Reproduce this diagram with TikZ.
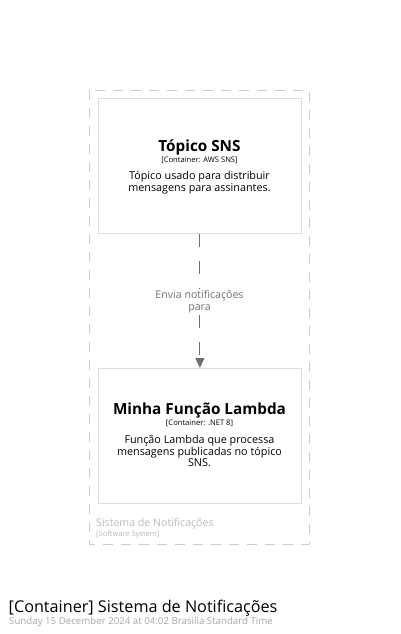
\documentclass[tikz,border=0pt]{standalone}
\usepackage{fontspec}
\setmainfont{Open Sans}
\usetikzlibrary{arrows.meta}
\definecolor{bordergray}{HTML}{DDDDDD}
\definecolor{dashgray}{HTML}{CCCCCC}
\definecolor{labelgray}{HTML}{707070}
\definecolor{lightlabel}{HTML}{BBBBBB}
\definecolor{dategray}{HTML}{A8A8A8}
\definecolor{linegray}{HTML}{707070}
\begin{document}
\begin{tikzpicture}[x=1pt,y=-1pt,
  container/.style={draw=bordergray,fill=white,line width=0.8pt,minimum width=203pt,minimum height=135pt,anchor=north west,inner sep=0pt},
  titletext/.style={font=\fontsize{15.3}{18}\selectfont\bfseries,text=black,anchor=base,inner sep=0pt},
  tagtext/.style={font=\fontsize{7.6}{9}\selectfont,text=black,anchor=base,inner sep=0pt},
  desctext/.style={font=\fontsize{10.8}{11.7}\selectfont,text=black,align=center,anchor=base,inner sep=0pt},
  rel/.style={draw=linegray,line width=1pt,dash pattern=on 13pt off 14pt,-{Triangle[length=10pt,width=9pt]}},
  rellabel/.style={font=\fontsize{10.6}{11.7}\selectfont,text=labelgray,align=center,fill=white,inner sep=1pt,anchor=base}
]
\useasboundingbox (0,0) rectangle (400,634);
\fill[white] (0,0) rectangle (400,634);
% boundary
\draw[dashgray,line width=1pt,dash pattern=on 10pt off 8pt] (89,90) rectangle (309,544);
\node[anchor=base west,font=\fontsize{10.6}{12}\selectfont,text=lightlabel,inner sep=0pt] (bname) at (96,526.7) {Sistema de Notificações};
\node[anchor=base west,font=\fontsize{7.5}{8}\selectfont,text=lightlabel,inner sep=0pt] (btype) at (96,536.7) {[Software System]};
% boxes
\node[container] (sns) at (98,98) {};
\node[container] (lambda) at (98,368) {};
% text in sns (multi-line nodes: base = last line)
\node[titletext] (snst) at (199.5,151.5) {Tópico SNS};
\node[tagtext] (snsg) at (199.5,162.3) {[Container: AWS SNS]};
\node[desctext] (snsd) at (199.5,191) {Tópico usado para distribuir\\mensagens para assinantes.};
% text in lambda
\node[titletext] (lt) at (199.5,414) {Minha Função Lambda};
\node[tagtext] (lg) at (199.5,425.7) {[Container: .NET 8]};
\node[desctext] (ld) at (199.5,466.7) {Função Lambda que processa\\mensagens publicadas no tópico\\SNS.};
% relation
\draw[rel] (sns.south) -- (lambda.north);
\node[rellabel] (rl) at (199.5,310) {Envia notificações\\para};
% footer
\node[anchor=base west,font=\fontsize{16.2}{19}\selectfont,text=black,inner sep=0pt] (ft) at (8.5,612.5) {[Container] Sistema de Notificações};
\node[anchor=base west,font=\fontsize{9.7}{11}\selectfont,text=dategray,inner sep=0pt] (fd) at (9,624) {Sunday 15 December 2024 at 04:02 Brasilia Standard Time};
\end{tikzpicture}
\end{document}
